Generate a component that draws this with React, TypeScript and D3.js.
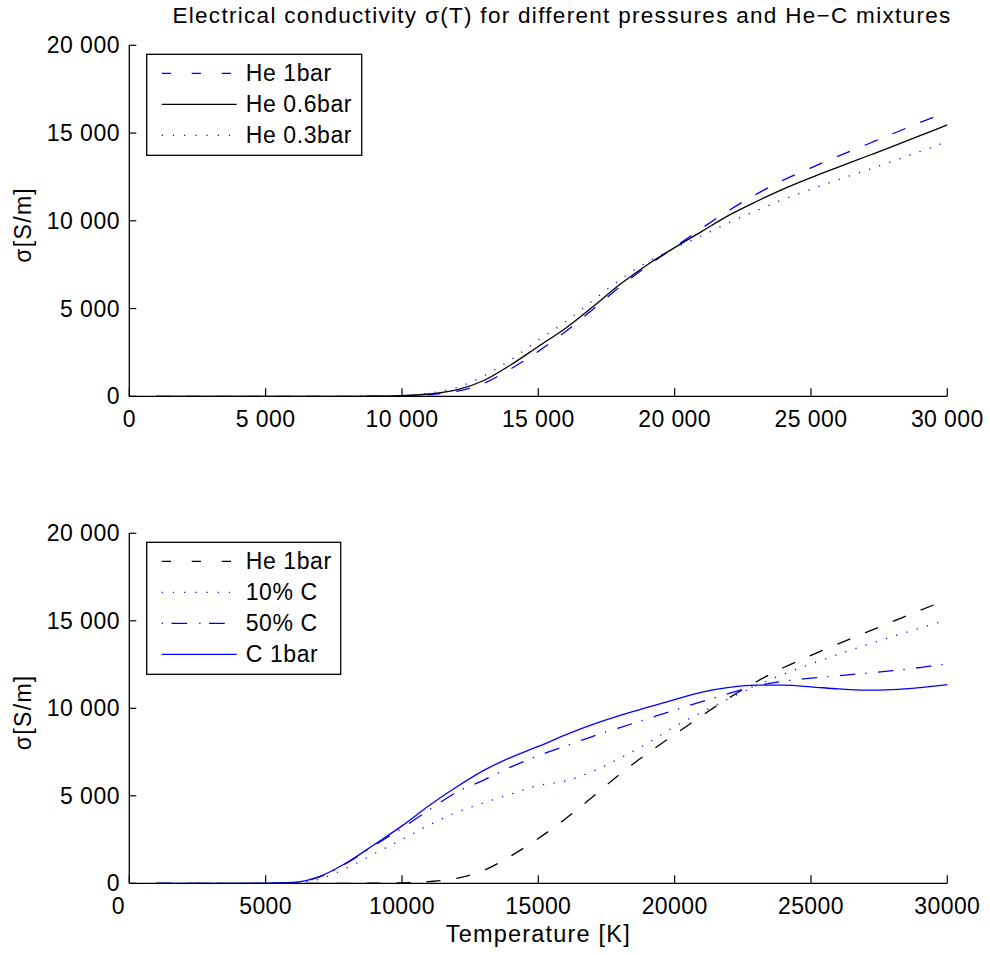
import React from "react";
import * as d3 from "d3";

// Temperature grid [K]
const TEMPS = [
  1000, 2000, 3000, 4000, 5000, 6000, 7000, 8000, 9000, 10000,
  11000, 12000, 13000, 14000, 15000, 16000, 17000, 18000, 19000, 20000,
  21000, 22000, 23000, 24000, 25000, 26000, 27000, 28000, 29000, 30000,
];

// Electrical conductivity [S/m]
const HE_1BAR = [
  0, 0, 0, 0, 0, 0, 0, 0, 5, 25,
  100, 280, 740, 1570, 2560, 3690, 4950, 6250, 7420, 8500,
  9580, 10600, 11520, 12330, 13020, 13680, 14320, 14960, 15600, 16200,
];
const HE_06BAR = [
  0, 0, 0, 0, 0, 0, 0, 0, 10, 35,
  130, 360, 900, 1800, 2840, 3880, 5100, 6380, 7500, 8470,
  9400, 10320, 11100, 11820, 12460, 13060, 13650, 14240, 14850, 15460,
];
const HE_03BAR = [
  0, 0, 0, 0, 0, 0, 0, 0, 12, 45,
  180, 500, 1160, 2090, 3200, 4250, 5450, 6650, 7650, 8450,
  9150, 9900, 10580, 11230, 11800, 12340, 12860, 13400, 13950, 14520,
];
const C10 = [
  0, 0, 0, 0, 0, 30, 250, 900, 1700, 2500,
  3330, 4050, 4600, 5100, 5590, 5850, 6400, 7150, 8000, 8950,
  9780, 10560, 11300, 11950, 12530, 13080, 13600, 14100, 14580, 15050,
];
const C50 = [
  0, 0, 0, 0, 0, 40, 380, 1180, 2180, 3150,
  4200, 5200, 5900, 6650, 7290, 7850, 8400, 8900, 9400, 9900,
  10380, 10850, 11280, 11550, 11720, 11860, 12000, 12150, 12330, 12550,
];
const C_1BAR = [
  0, 0, 0, 0, 5, 50, 400, 1200, 2230, 3280,
  4450, 5500, 6450, 7200, 7820, 8480, 9080, 9600, 10050, 10500,
  10930, 11200, 11330, 11320, 11230, 11110, 11040, 11070, 11180, 11350,
];

const X_TICKS = [0, 5000, 10000, 15000, 20000, 25000, 30000];
const Y_TICKS = [0, 5000, 10000, 15000, 20000];

const TOP_NAMES = ["He 1bar", "He 0.6bar", "He 0.3bar"];
const BOTTOM_NAMES = ["He 1bar", "10% C", "50% C", "C 1bar"];

const TITLE = "Electrical conductivity \u03c3(T) for different pressures and He\u2212C mixtures";
const Y_LABEL = "\u03c3[S/m]";
const X_LABEL = "Temperature [K]";

const FONT = "'Liberation Sans', Arial, Helvetica, sans-serif";
const BLUE = "#0000ff";
const BLACK = "#000000";

const DASHED = "14 16";
const DOTTED = "1.2 9.5";
const DASHDOT = "15.5 10 1.3 11.5";

type Series = { name: string; values: number[]; color: string; dash: string | null; legendDash: string | null };

const topSeries: Series[] = [
  { name: TOP_NAMES[0], values: HE_1BAR, color: BLUE, dash: DASHED, legendDash: "9.3 20.7" },
  { name: TOP_NAMES[1], values: HE_06BAR, color: BLACK, dash: null, legendDash: null },
  { name: TOP_NAMES[2], values: HE_03BAR, color: BLUE, dash: DOTTED, legendDash: "1.2 10" },
];
const bottomSeries: Series[] = [
  { name: BOTTOM_NAMES[0], values: HE_1BAR, color: BLACK, dash: DASHED, legendDash: "9.3 20.7" },
  { name: BOTTOM_NAMES[1], values: C10, color: BLUE, dash: DOTTED, legendDash: "1.2 10" },
  { name: BOTTOM_NAMES[2], values: C50, color: BLUE, dash: DASHDOT, legendDash: "1.3 8.5 15.7 12" },
  { name: BOTTOM_NAMES[3], values: C_1BAR, color: BLUE, dash: null, legendDash: null },
];

const spaced = (v: number) => d3.format(",")(v).replace(/,/g, " ");
const plain = (v: number) => d3.format("d")(v);

type PanelProps = {
  top: number;
  bottom: number;
  series: Series[];
  xFmt: (v: number) => string;
  legendW: number;
  zeroShift: number;
};

function Panel({ top, bottom, series, xFmt, legendW, zeroShift }: PanelProps) {
  const x = d3.scaleLinear().domain([0, 30000]).range([129.3, 947.3]);
  const y = d3.scaleLinear().domain([0, 20000]).range([bottom, top]);
  const line = (vals: number[]) =>
    d3
      .line<number>()
      .x((_, i) => x(TEMPS[i]))
      .y((d) => y(d))
      .curve(d3.curveMonotoneX)(vals) || "";

  const legX = 146.7;
  const legY = top + 9;
  const rowH = 31;
  const legH = series.length * rowH + 8;

  return (
    <g>
      {/* curves */}
      {series.map((s) => (
        <path
          key={s.name + s.color}
          d={line(s.values)}
          fill="none"
          stroke={s.color}
          strokeWidth={1.3}
          strokeDasharray={s.dash || undefined}
        />
      ))}
      {/* axes */}
      <line x1={x(0)} x2={x(30000)} y1={bottom} y2={bottom} stroke="#000" strokeWidth={1.3} />
      <line x1={x(0)} x2={x(0)} y1={bottom} y2={top} stroke="#000" strokeWidth={1.3} />
      {X_TICKS.map((t) => (
        <g key={"x" + t}>
          <line x1={x(t)} x2={x(t)} y1={bottom} y2={bottom - 8} stroke="#000" strokeWidth={1.2} />
          <text
            x={x(t) + (t === 0 ? zeroShift : 0)}
            y={bottom + 31}
            textAnchor="middle"
            fontSize={23}
            letterSpacing={0.4}
            fontFamily={FONT}
          >
            {xFmt(t)}
          </text>
        </g>
      ))}
      {Y_TICKS.map((t) => (
        <g key={"y" + t}>
          <line x1={x(0)} x2={x(0) + 7} y1={y(t)} y2={y(t)} stroke="#000" strokeWidth={1.2} />
          <text x={120} y={y(t) + 8} textAnchor="end" fontSize={23} letterSpacing={0.5} fontFamily={FONT}>
            {spaced(t)}
          </text>
        </g>
      ))}
      <text
        transform={`translate(31,${(top + bottom) / 2 + 4}) rotate(-90)`}
        textAnchor="middle"
        fontSize={23}
        letterSpacing={1.3}
        fontFamily={FONT}
      >
        {Y_LABEL}
      </text>
      {/* legend */}
      <rect x={legX} y={legY} width={legendW} height={legH} fill="#fff" stroke="#000" strokeWidth={1.3} />
      {series.map((s, i) => {
        const cy = legY + 19 + i * rowH;
        return (
          <g key={"leg" + i}>
            <line
              x1={legX + 15}
              x2={legX + 90}
              y1={cy}
              y2={cy}
              stroke={s.color}
              strokeWidth={1.3}
              strokeDasharray={s.legendDash || undefined}
            />
            <text x={legX + 99} y={cy + 8} fontSize={23} letterSpacing={0.6} fontFamily={FONT}>
              {s.name}
            </text>
          </g>
        );
      })}
    </g>
  );
}

export default function App() {
  return (
    <div style={{ position: "fixed", left: 0, top: 0 }}>
      <svg width={990} height={955} style={{ display: "block", background: "#fff" }}>
        <rect width={990} height={955} fill="#fff" />
        <text x={562} y={23} textAnchor="middle" fontSize={22.5} letterSpacing={1.3} fontFamily={FONT}>
          {TITLE}
        </text>
        <Panel top={45.3} bottom={396.3} series={topSeries} xFmt={spaced} legendW={215} zeroShift={0} />
        <Panel top={533.3} bottom={883.3} series={bottomSeries} xFmt={plain} legendW={194} zeroShift={-11} />
        <text x={538.3} y={942} textAnchor="middle" fontSize={23.5} letterSpacing={1.2} fontFamily={FONT}>
          {X_LABEL}
        </text>
      </svg>
    </div>
  );
}
